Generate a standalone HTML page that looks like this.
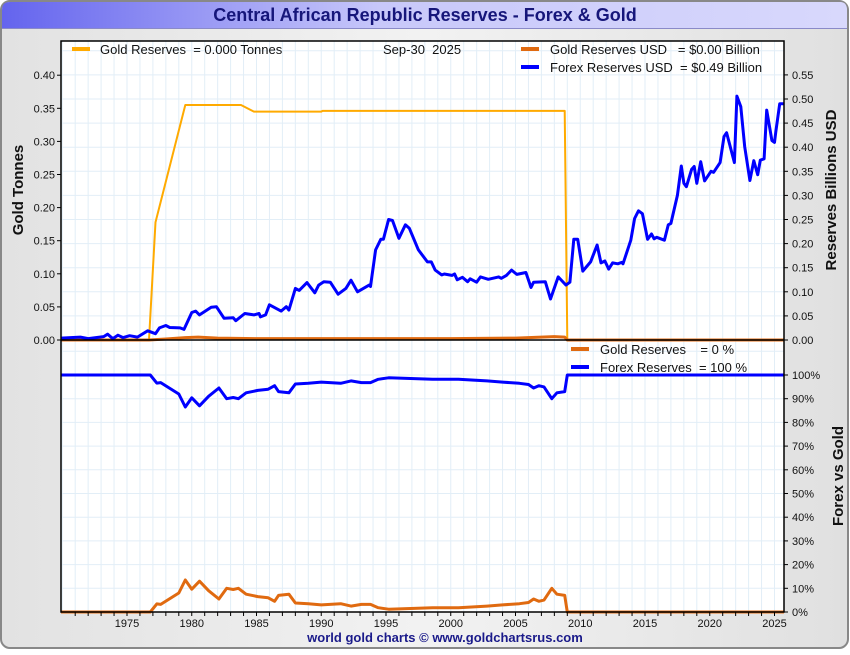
<!DOCTYPE html>
<html><head><meta charset="utf-8"><style>
html,body{margin:0;padding:0;background:#fff;}
body{width:850px;height:650px;overflow:hidden;font-family:"Liberation Sans",sans-serif;}
text{white-space:pre;}
</style></head><body>
<svg id="c" width="850" height="650" xmlns="http://www.w3.org/2000/svg" font-family="Liberation Sans, sans-serif">
<defs>
<linearGradient id="tg" x1="0" x2="1" y1="0" y2="0"><stop offset="0" stop-color="#6464ee"/><stop offset="0.45" stop-color="#c8c8fa"/><stop offset="1" stop-color="#d8d8fc"/></linearGradient>
<linearGradient id="bg" x1="0" x2="1" y1="0" y2="0"><stop offset="0" stop-color="#e2e2e2"/><stop offset="0.5" stop-color="#f2f2f2"/><stop offset="1" stop-color="#e0e0e0"/></linearGradient>
</defs>
<rect x="1" y="1" width="847" height="647" rx="9" fill="url(#bg)" stroke="#888" stroke-width="2"/>
<path d="M2,28 L2,10 Q2,2 10,2 L840,2 Q847,2 847,10 L847,28 Z" fill="url(#tg)"/>
<line x1="2" y1="28.5" x2="847" y2="28.5" stroke="#8a8ac8" stroke-width="1"/>
<text x="425" y="21" text-anchor="middle" font-size="18" font-weight="bold" fill="#16167a">Central African Republic Reserves - Forex &amp; Gold</text>
<rect x="61" y="41" width="723" height="571" fill="#fff"/>
<g id="grid"></g>
<g id="series"></g>
<g id="axes"></g>
<g font-size="13" fill="#111">
<line x1="72" y1="49" x2="90" y2="49" stroke="#ffaa00" stroke-width="4"/>
<text x="100" y="54" xml:space="preserve">Gold Reserves  = 0.000 Tonnes</text>
<text x="383" y="54" xml:space="preserve">Sep-30  2025</text>
<line x1="521" y1="49" x2="539" y2="49" stroke="#e06a10" stroke-width="4"/>
<text x="550" y="54" xml:space="preserve">Gold Reserves USD   = $0.00 Billion</text>
<line x1="521" y1="67" x2="539" y2="67" stroke="#0000ff" stroke-width="4"/>
<text x="550" y="72" xml:space="preserve">Forex Reserves USD  = $0.49 Billion</text>
</g>
<g font-size="13" fill="#111">
<line x1="571" y1="349" x2="589" y2="349" stroke="#e06a10" stroke-width="4"/>
<text x="600" y="354" xml:space="preserve">Gold Reserves    = 0 %</text>
<line x1="571" y1="367" x2="589" y2="367" stroke="#0000ff" stroke-width="4"/>
<text x="600" y="372" xml:space="preserve">Forex Reserves  = 100 %</text>
</g>
<text transform="translate(23,190) rotate(-90)" text-anchor="middle" font-size="15" font-weight="bold" fill="#111">Gold Tonnes</text>
<text transform="translate(836,190) rotate(-90)" text-anchor="middle" font-size="15" font-weight="bold" fill="#111">Reserves Billions USD</text>
<text transform="translate(843,476) rotate(-90)" text-anchor="middle" font-size="15" font-weight="bold" fill="#111">Forex vs Gold</text>
<text x="445" y="642" text-anchor="middle" font-size="13" font-weight="bold" fill="#1a1a8a">world gold charts © www.goldchartsrus.com</text>
</svg>
<script>
const goldTonYears=[1969.9,1976.7,1977.2,1979.5,1983.8,1984.8,1990,1990.1,2008.8,2009.0,2025.8];
const goldTonVals=[0,0,0.178,0.355,0.355,0.345,0.345,0.346,0.346,0,0];
const goldUsdYears=[1969.9,1976.7,1978,1979.5,1980.5,1982,1985,1990,1995,2000,2005,2008,2008.8,2009,2025.8];
const goldUsdVals=[0,0,0.002,0.005,0.006,0.004,0.003,0.003,0.003,0.003,0.004,0.007,0.006,0,0];
const forexYears=[1969.8,1971.4,1972,1973.2,1973.5,1973.9,1974.3,1974.7,1975.2,1975.8,1976.6,1977.2,1977.5,1978,1978.3,1979.1,1979.4,1980,1980.3,1980.6,1981.5,1981.9,1982.5,1983.2,1983.4,1984.1,1984.8,1985.2,1985.3,1985.7,1986,1986.9,1987.3,1987.5,1988,1988.3,1988.9,1989.5,1989.8,1990.2,1990.7,1991.3,1991.9,1992.3,1992.8,1993.7,1993.8,1994.2,1994.6,1994.8,1995.2,1995.5,1996,1996.5,1996.8,1997.5,1998.2,1998.5,1998.8,1999.3,1999.5,2000.1,2000.3,2000.5,2000.9,2001.3,2001.5,2002,2002.3,2002.9,2003.7,2003.9,2004.3,2004.7,2005.1,2005.8,2006.2,2006.4,2007.3,2007.7,2008.3,2008.9,2009.2,2009.5,2009.8,2010.2,2010.8,2011.3,2011.6,2011.9,2012.2,2012.5,2012.9,2013.2,2013.3,2013.9,2014.2,2014.5,2014.8,2015.2,2015.5,2015.7,2015.9,2016.5,2016.8,2017,2017.5,2017.8,2018,2018.2,2018.6,2018.8,2019,2019.3,2019.6,2020.1,2020.3,2020.8,2021.1,2021.3,2021.9,2022.1,2022.4,2022.7,2023.1,2023.4,2023.7,2023.9,2024.2,2024.4,2024.8,2025,2025.1,2025.4,2025.8];
const forexVals=[0.004,0.006,0.003,0.007,0.012,0.003,0.01,0.005,0.009,0.006,0.019,0.013,0.025,0.03,0.026,0.025,0.022,0.057,0.06,0.052,0.068,0.069,0.045,0.046,0.04,0.055,0.052,0.055,0.048,0.052,0.073,0.06,0.069,0.062,0.107,0.103,0.119,0.098,0.114,0.121,0.12,0.095,0.107,0.124,0.1,0.114,0.111,0.187,0.209,0.209,0.25,0.248,0.211,0.239,0.232,0.187,0.162,0.162,0.145,0.135,0.137,0.134,0.137,0.125,0.13,0.121,0.127,0.12,0.131,0.126,0.131,0.128,0.134,0.145,0.136,0.14,0.109,0.12,0.121,0.085,0.131,0.114,0.12,0.209,0.209,0.143,0.162,0.197,0.16,0.164,0.147,0.16,0.158,0.161,0.158,0.207,0.252,0.268,0.262,0.209,0.22,0.21,0.213,0.207,0.239,0.242,0.3,0.361,0.325,0.318,0.354,0.36,0.325,0.37,0.33,0.35,0.348,0.368,0.422,0.43,0.368,0.506,0.484,0.401,0.331,0.372,0.343,0.373,0.376,0.477,0.414,0.41,0.432,0.49,0.49];
const pctYears=[1969.9,1976.8,1977.3,1977.6,1979.0,1979.5,1980,1980.6,1981.3,1982.1,1982.7,1983.2,1983.6,1984.2,1985.1,1985.9,1986.4,1986.7,1987.5,1988,1989,1990,1991.5,1992.3,1993.1,1993.8,1994.4,1995.2,1998.6,2000.6,2002.8,2004,2005.3,2006,2006.4,2006.8,2007.2,2007.8,2008.2,2008.8,2009.0,2025.8];
const goldPctVals=[0,0,3.4,3.2,8,13.5,9.6,13,9,5.5,10,9.5,10,7.5,6.5,6,4.5,7,7.5,3.8,3.5,3,3.5,2.5,3.2,3.2,1.8,1.2,1.8,1.8,2.5,3,3.5,4,5.5,4.5,5,10,7.5,7,0,0];
const forexPctVals=[100,100,96.6,96.8,92,86.5,90.4,87,91,94.5,90,90.5,90,92.5,93.5,94,95.5,93,92.5,96.2,96.5,97,96.5,97.5,96.8,96.8,98.2,98.8,98.2,98.2,97.5,97,96.5,96,94.5,95.5,95,90,92.5,93,100,100];
const leftTicks=["0.00","0.05","0.10","0.15","0.20","0.25","0.30","0.35","0.40"];
const rightTicks=["0.00","0.05","0.10","0.15","0.20","0.25","0.30","0.35","0.40","0.45","0.50","0.55"];
const pctTicks=["0%","10%","20%","30%","40%","50%","60%","70%","80%","90%","100%"];
const yearLabels=[1975,1980,1985,1990,1995,2000,2005,2010,2015,2020,2025];

const NS="http://www.w3.org/2000/svg";
const L=61,R=784,T=41,M=340,B=612;
const xs=y=>127+(y-1975)*12.95;
const yTon=v=>M-v/0.05*33.1;
const yUsd=v=>M-v/0.05*24.1;
const yPct=v=>B-v/10*23.7;
function mk(tag,attrs,parent){const e=document.createElementNS(NS,tag);for(const k in attrs)e.setAttribute(k,attrs[k]);parent.appendChild(e);return e;}
const grid=document.getElementById('grid'),ser=document.getElementById('series'),ax=document.getElementById('axes');
for(let yr=1970;yr<=2025;yr++){const x=xs(yr);if(x<L||x>R)continue;const g=mk('line',{x1:x,x2:x,y1:T,y2:B,stroke:'#e2eef7','stroke-width':1},grid);}
for(let i=1;i<14;i++){const y=M-i*24.1;if(y<T)break;const g=mk('line',{x1:L,x2:R,y1:y,y2:y,stroke:'#e2eef7','stroke-width':1},grid);}
for(let i=1;i<=11;i++){const y=B-i*23.7;if(y<M)break;const g=mk('line',{x1:L,x2:R,y1:y,y2:y,stroke:'#e2eef7','stroke-width':1},grid);}
function line(xsArr,vals,yf,color,w,name){const d=xsArr.map((yr,i)=>(i?'L':'M')+Math.min(R,Math.max(L,xs(yr))).toFixed(1)+','+yf(vals[i]).toFixed(1)).join(' ');const p=mk('path',{d:d,fill:'none',stroke:color,'stroke-width':w,'stroke-linejoin':'round'},ser);}
line(goldTonYears,goldTonVals,yTon,'#ffaa00',2,'gold-tonnes-line');
line(goldUsdYears,goldUsdVals,yUsd,'#e06a10',3,'gold-usd-line');
line(forexYears,forexVals,yUsd,'#0000ff',3,'forex-usd-line');
line(pctYears,goldPctVals,yPct,'#e06a10',3,'gold-pct-line');
line(pctYears,forexPctVals,yPct,'#0000ff',3,'forex-pct-line');
const f=mk('rect',{x:L,y:T,width:R-L,height:B-T,fill:'none',stroke:'#000','stroke-width':1.5},ax);
const dv=mk('line',{x1:L,x2:R,y1:M,y2:M,stroke:'#000','stroke-width':1.5},ax);
leftTicks.forEach((t,i)=>{const y=yTon(i*0.05);mk('line',{x1:L-4,x2:L,y1:y,y2:y,stroke:'#000'},ax);const e=mk('text',{x:L-6,y:y+4,'text-anchor':'end','font-size':11,fill:'#111'},ax);e.textContent=t;});
rightTicks.forEach((t,i)=>{const y=yUsd(i*0.05);mk('line',{x1:R,x2:R+4,y1:y,y2:y,stroke:'#000'},ax);const e=mk('text',{x:R+8,y:y+4,'font-size':11,fill:'#111'},ax);e.textContent=t;});
pctTicks.forEach((t,i)=>{const y=yPct(i*10);mk('line',{x1:R,x2:R+4,y1:y,y2:y,stroke:'#000'},ax);const e=mk('text',{x:R+8,y:y+4,'font-size':11,fill:'#111'},ax);e.textContent=t;});
for(let yr=1971;yr<=2025;yr++){const x=xs(yr);mk('line',{x1:x,x2:x,y1:B,y2:B+4,stroke:'#000'},ax);}
yearLabels.forEach(yr=>{const e=mk('text',{x:xs(yr),y:B+15,'text-anchor':'middle','font-size':11,fill:'#111'},ax);e.textContent=yr;});
</script>
</body></html>
